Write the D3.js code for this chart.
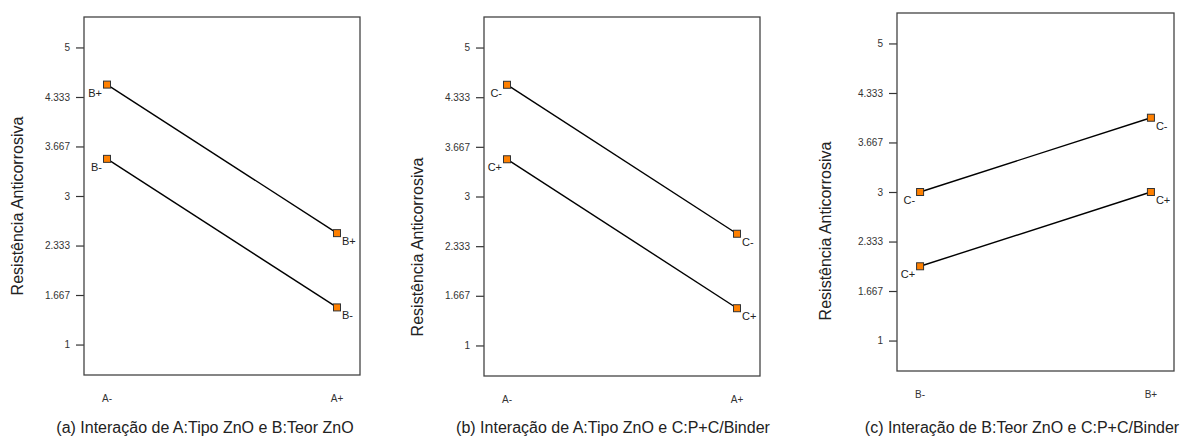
<!DOCTYPE html>
<html>
<head>
<meta charset="utf-8">
<script src="https://cdn.jsdelivr.net/npm/d3@7"></script>
<style>
  body { margin: 0; background: #fff; }
  svg { display: block; font-family: "Liberation Sans", Arial, sans-serif; }
</style>
</head>
<body>
<div id="chart"></div>
<script>
// valores
var yTicks = [1, 1.667, 2.333, 3, 3.667, 4.333, 5];
var yTickLabels = ["1", "1.667", "2.333", "3", "3.667", "4.333", "5"];

var catsA = ["A-", "A+"];
var catsB = ["B-", "B+"];

// (a) A x B
var seriesAB = ["B+", "B-"];
var valsAB_Bplus = [4.5, 2.5];
var valsAB_Bminus = [3.5, 1.5];

// (b) A x C
var seriesAC = ["C-", "C+"];
var valsAC_Cminus = [4.5, 2.5];
var valsAC_Cplus = [3.5, 1.5];

// (c) B x C
var seriesBC = ["C-", "C+"];
var valsBC_Cminus = [3, 4];
var valsBC_Cplus = [2, 3];

var captions = [
  "(a) Interação de A:Tipo ZnO e B:Teor ZnO",
  "(b) Interação de A:Tipo ZnO e C:P+C/Binder",
  "(c) Interação de B:Teor ZnO e C:P+C/Binder"
];
var yTitle = "Resistência Anticorrosiva";

var W = 1188, H = 437;
var svg = d3.select("#chart").append("svg").attr("width", W).attr("height", H);

var panels = [
  { box: [84, 17, 276, 358], cats: catsA, names: seriesAB, vals: [valsAB_Bplus, valsAB_Bminus],
    titleX: 17, titleY: 206, capX: 205 },
  { box: [484, 17, 276, 359], cats: catsA, names: seriesAC, vals: [valsAC_Cminus, valsAC_Cplus],
    titleX: 417, titleY: 247, capX: 613 },
  { box: [897, 13, 277, 358], cats: catsB, names: seriesBC, vals: [valsBC_Cminus, valsBC_Cplus],
    titleX: 825, titleY: 231, capX: 1022 }
];

panels.forEach(function(p, k) {
  var left = p.box[0], top = p.box[1], w = p.box[2], h = p.box[3];
  var x = d3.scalePoint().domain(p.cats).range([left, left + w]).padding(0.1);
  var y = d3.scaleLinear().domain([0.59, 5.41]).range([top + h, top]);

  // eixo y
  var yAxis = d3.axisLeft(y).tickValues(yTicks)
    .tickFormat(function(d, i) { return yTickLabels[i]; })
    .tickSize(8).tickPadding(6);
  var gy = svg.append("g").attr("transform", "translate(" + left + ",0)").call(yAxis);
  gy.select(".domain").remove();
  gy.selectAll(".tick line").attr("stroke", "#333").attr("stroke-width", 1.2);
  gy.selectAll(".tick text").attr("font-size", 10).attr("fill", "#333")
    .attr("font-family", "Liberation Sans, Arial, sans-serif");

  // rótulos x (sem marcas)
  svg.append("g").selectAll("text").data(p.cats).enter().append("text")
    .attr("x", function(d) { return x(d); })
    .attr("y", top + h + 27)
    .attr("text-anchor", "middle")
    .attr("font-size", 10).attr("fill", "#333")
    .text(function(d) { return d; });

  // moldura
  svg.append("rect")
    .attr("x", left).attr("y", top).attr("width", w).attr("height", h)
    .attr("fill", "none").attr("stroke", "#444").attr("stroke-width", 1.3);

  // linhas de interação
  var line = d3.line()
    .x(function(d, i) { return x(p.cats[i]); })
    .y(function(d) { return y(d); });

  p.vals.forEach(function(v, s) {
    svg.append("path").datum(v)
      .attr("d", line)
      .attr("fill", "none").attr("stroke", "#000").attr("stroke-width", 1.4);

    svg.append("g").selectAll("rect").data(v).enter().append("rect")
      .attr("x", function(d, i) { return x(p.cats[i]) - 3.5; })
      .attr("y", function(d) { return y(d) - 3.5; })
      .attr("width", 7).attr("height", 7)
      .attr("fill", "#ff8000").attr("stroke", "#333").attr("stroke-width", 1);

    svg.append("g").selectAll("text").data(v).enter().append("text")
      .attr("x", function(d, i) { return i === 0 ? x(p.cats[i]) - 5 : x(p.cats[i]) + 5; })
      .attr("y", function(d) { return y(d) + 12; })
      .attr("text-anchor", function(d, i) { return i === 0 ? "end" : "start"; })
      .attr("font-size", 11).attr("fill", "#222")
      .text(p.names[s]);
  });

  // título do eixo y
  svg.append("text")
    .attr("transform", "translate(" + (p.titleX + 6) + "," + p.titleY + ") rotate(-90)")
    .attr("text-anchor", "middle")
    .attr("font-size", 16).attr("fill", "#222")
    .text(yTitle);

  // legenda da figura
  svg.append("text")
    .attr("x", p.capX).attr("y", 433)
    .attr("text-anchor", "middle")
    .attr("font-size", 16).attr("fill", "#222")
    .text(captions[k]);
});
</script>
</body>
</html>
